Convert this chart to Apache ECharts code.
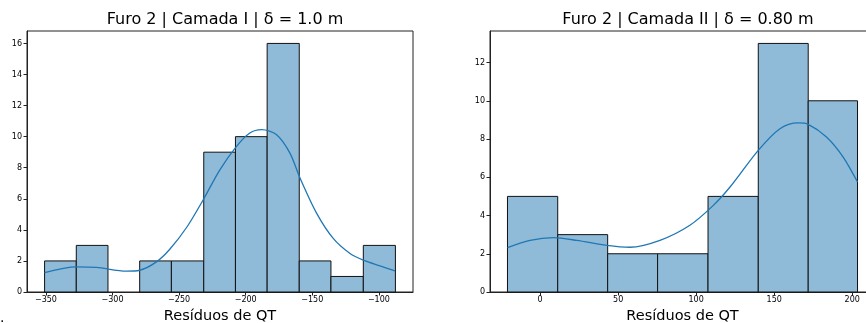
<!DOCTYPE html>
<html>
<head>
<meta charset="utf-8">
<script src="https://cdn.jsdelivr.net/npm/echarts@6/dist/echarts.min.js"></script>
<style>
  html, body { margin: 0; padding: 0; background: #fff; }
  #chart { width: 866px; height: 323px; }
</style>
</head>
<body>
<div id="chart"></div>
<script>
// Furo 2 | Camada I
let leftEdges = [-351, -327.2, -303.4, -279.6, -255.8, -231.5, -207.7, -183.9, -159.8, -136.0, -111.7, -87.6];
let leftCounts = [2, 3, 0, 2, 2, 9, 10, 16, 2, 1, 3];
let leftKdeX = [-351, -327.2, -312.1, -289.6, -279.6, -267.0, -257.0, -244.0, -232.0, -219.4, -206.9, -196.9, -188.1, -176.8, -166.8, -159.3, -146.7, -134.3, -121.7, -111.7, -99.1, -87.9];
let leftKdeY = [1.25, 1.62, 1.58, 1.34, 1.40, 1.94, 2.75, 4.2, 5.92, 7.86, 9.37, 10.23, 10.45, 10.12, 8.94, 7.35, 5.06, 3.45, 2.48, 2.05, 1.68, 1.36];
let leftXTicks = [-350, -300, -250, -200, -150, -100];
let leftYTicks = [0, 2, 4, 6, 8, 10, 12, 14, 16];

// Furo 2 | Camada II
let rightEdges = [-20.9, 11.3, 43.3, 75.3, 107.6, 139.8, 171.8, 203.4];
let rightCounts = [5, 3, 2, 2, 5, 13, 10];
let rightKdeX = [-20.9, -6.4, 8.5, 23.5, 42.7, 57.6, 76.8, 96.0, 111.0, 121.7, 139.8, 153.7, 165.4, 171.8, 183.5, 194.2, 203.4];
let rightKdeY = [2.32, 2.70, 2.84, 2.70, 2.44, 2.34, 2.70, 3.49, 4.53, 5.49, 7.41, 8.54, 8.84, 8.77, 8.11, 7.06, 5.75];
let rightXTicks = [0, 50, 100, 150, 200];
let rightYTicks = [0, 2, 4, 6, 8, 10, 12];

let titles = ["Furo 2 | Camada I | δ = 1.0 m", "Furo 2 | Camada II | δ = 0.80 m"];
let xName = "Resíduos de QT";

let FONT = "DejaVu Sans";
let myEcharts = echarts.init(document.getElementById("chart"));

function fmt(v) {
    return v < 0 ? "\u2212" + Math.abs(v) : String(v);
}
//bins sem contagem não desenham nada
function binData(edges, counts) {
    let d = [];
    counts.forEach(function (c, i) {
        if (c > 0) d.push([edges[i], edges[i + 1], c]);
    });
    return d;
}
function pairs(xs, ys) {
    return xs.map(function (x, i) { return [x, ys[i]]; });
}
function renderBin(params, api) {
    let p0 = api.coord([api.value(0), api.value(2)]);
    let p1 = api.coord([api.value(1), 0]);
    return {
        type: "rect",
        shape: { x: p0[0], y: p0[1], width: p1[0] - p0[0], height: p1[1] - p0[1] },
        style: { fill: "#8fbbd9", stroke: "#111", lineWidth: 1 }
    };
}
function xAxis(idx, min, max, ticks) {
    return {
        type: "value", gridIndex: idx, min: min, max: max,
        name: xName, nameLocation: "middle", nameGap: 14,
        nameTextStyle: { fontFamily: FONT, fontSize: 14.5, color: "#000" },
        splitLine: { show: false },
        axisLine: { show: true, onZero: false, lineStyle: { color: "#222", width: 1 } },
        axisTick: { show: true, length: 3.5, lineStyle: { color: "#222" }, customValues: ticks },
        axisLabel: { fontFamily: FONT, fontSize: 8, color: "#000", margin: 4, formatter: fmt, customValues: ticks }
    };
}
function yAxis(idx, max, ticks) {
    return {
        type: "value", gridIndex: idx, min: 0, max: max,
        splitLine: { show: false },
        axisLine: { show: true, onZero: false, lineStyle: { color: "#222", width: 1 } },
        axisTick: { show: true, length: 3.5, lineStyle: { color: "#222" }, customValues: ticks },
        axisLabel: { fontFamily: FONT, fontSize: 8, color: "#000", margin: 5, customValues: ticks }
    };
}

let option = {
    animation: false,
    backgroundColor: "#fff",
    title: [
        { text: titles[0], left: 220, top: 7, textAlign: "center",
          textStyle: { fontFamily: FONT, fontSize: 16, fontWeight: "normal", color: "#000" } },
        { text: titles[1], left: 683, top: 7, textAlign: "center",
          textStyle: { fontFamily: FONT, fontSize: 16, fontWeight: "normal", color: "#000" } }
    ],
    graphic: [
        { type: "text", left: 0, top: 311, style: { text: ".", font: "14px DejaVu Sans", fill: "#000" } }
    ],
    grid: [
        { left: 27, top: 31, width: 386, height: 261, show: true, borderColor: "#222", borderWidth: 1,
          containLabel: false, outerBoundsMode: "none" },
        { left: 490, top: 31, width: 385, height: 261, show: true, borderColor: "#222", borderWidth: 1,
          containLabel: false, outerBoundsMode: "none" }
    ],
    xAxis: [
        xAxis(0, -364.2, -74.4, leftXTicks),
        xAxis(1, -32.1, 214.6, rightXTicks)
    ],
    yAxis: [
        yAxis(0, 16.8, leftYTicks),
        yAxis(1, 13.65, rightYTicks)
    ],
    series: [
        { type: "custom", xAxisIndex: 0, yAxisIndex: 0, renderItem: renderBin,
          encode: { x: [0, 1], y: 2 }, data: binData(leftEdges, leftCounts) },
        { type: "line", xAxisIndex: 0, yAxisIndex: 0, data: pairs(leftKdeX, leftKdeY),
          smooth: 0.3, symbol: "none", lineStyle: { color: "#1f77b4", width: 1.3 }, z: 5 },
        { type: "custom", xAxisIndex: 1, yAxisIndex: 1, renderItem: renderBin,
          encode: { x: [0, 1], y: 2 }, data: binData(rightEdges, rightCounts) },
        { type: "line", xAxisIndex: 1, yAxisIndex: 1, data: pairs(rightKdeX, rightKdeY),
          smooth: 0.3, symbol: "none", lineStyle: { color: "#1f77b4", width: 1.3 }, z: 5 }
    ]
};
myEcharts.setOption(option);
</script>
</body>
</html>
